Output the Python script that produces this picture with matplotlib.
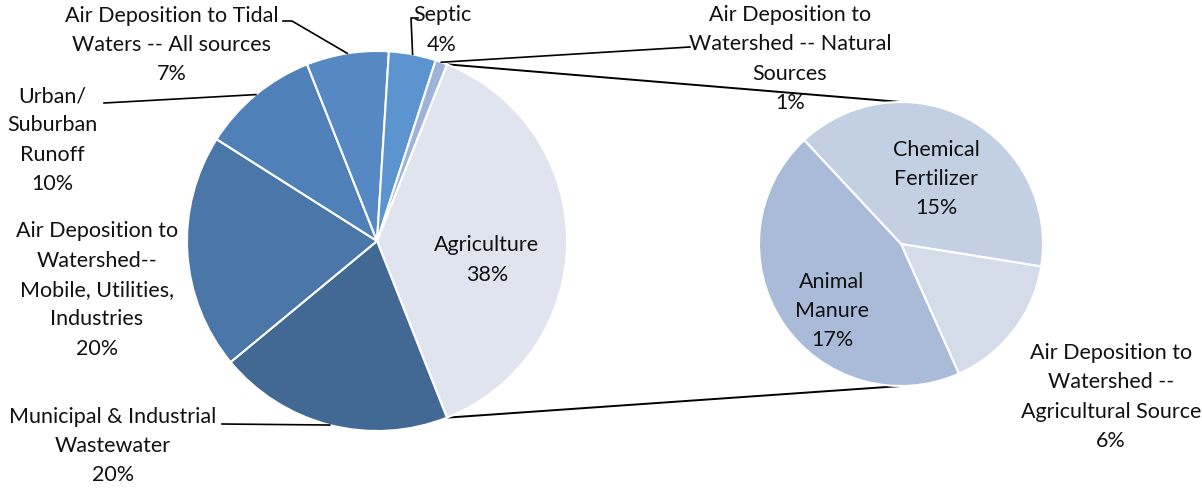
import numpy as np
import matplotlib.pyplot as plt

W, H = 1202, 488

# main pie
main_labels = ["Agriculture", "Municipal & Industrial\nWastewater",
               "Air Deposition to\nWatershed--\nMobile, Utilities,\nIndustries",
               "Urban/\nSuburban\nRunoff", "Air Deposition to Tidal\nWaters -- All sources",
               "Septic", "Air Deposition to\nWatershed -- Natural\nSources"]
main_values = [38, 20, 20, 10, 7, 4, 1]
main_colors = ["#dfe4ee", "#416994", "#4a76a8", "#4f80b8", "#5689c3", "#5c94d0", "#9db3d8"]

# breakdown of agriculture
sub_labels = ["Chemical\nFertilizer", "Air Deposition to\nWatershed --\nAgricultural Source",
              "Animal\nManure"]
sub_values = [15, 6, 17]
sub_colors = ["#c3d0e4", "#d4dbe9", "#aabbd9"]

plt.rcParams["font.family"] = ["Lato", "DejaVu Sans"]
fig = plt.figure(figsize=(W / 100, H / 100), dpi=100)
ax = fig.add_axes([0, 0, 1, 1])


def Y(y):
    return H - y


c1, r1 = (377, Y(241)), 190
c2, r2 = (901, Y(244)), 142

half = 360 * main_values[0] / sum(main_values) / 2
wedges1, _ = ax.pie(main_values, colors=main_colors, center=c1, radius=r1,
                    startangle=half, counterclock=False,
                    wedgeprops=dict(edgecolor="white", linewidth=1.5))
wedges2, _ = ax.pie(sub_values, colors=sub_colors, center=c2, radius=r2,
                    startangle=133, counterclock=False,
                    wedgeprops=dict(edgecolor="white", linewidth=1.5))
ax.set_xlim(0, W)
ax.set_ylim(0, H)
ax.set_aspect("auto")
ax.axis("off")


def edge_point(w, frac=0.5, r=None):
    ang = np.deg2rad(w.theta1 + (w.theta2 - w.theta1) * frac)
    rr = w.r if r is None else r
    return w.center[0] + rr * np.cos(ang), w.center[1] + rr * np.sin(ang)


# lines joining the agriculture slice to the second pie
a = wedges1[0]
for ang, yy in [(a.theta2, c2[1] + r2), (a.theta1, c2[1] - r2)]:
    x0 = c1[0] + r1 * np.cos(np.deg2rad(ang))
    y0 = c1[1] + r1 * np.sin(np.deg2rad(ang))
    ax.plot([x0, c2[0]], [y0, yy], color="black", lw=1.4, zorder=0)

fs = 15.5
tk = dict(ha="center", va="center", fontsize=fs, linespacing=1.58, color="#111111")


def label(i, text, x, y, lead=None):
    pct = f"{main_values[i]}%"
    ax.text(x, Y(y), f"{text}\n{pct}", **tk)
    if lead is not None:
        px, py = edge_point(wedges1[i])
        xs = [p[0] for p in lead] + [px]
        ys = [Y(p[1]) for p in lead] + [py]
        ax.plot(xs, ys, color="black", lw=1.2)


label(0, main_labels[0], 487, 260)
label(1, main_labels[1], 113, 446, lead=[(222, 424)])
label(2, main_labels[2], 97, 290)
label(3, main_labels[3], 52, 140, lead=[(104, 103)])
label(4, main_labels[4], 172, 45, lead=[(283, 21), (292, 21)])
label(5, main_labels[5], 442, 30, lead=[(418, 18), (411, 18)])
label(6, main_labels[6], 790, 59, lead=[(690, 47)])

sub_pos = [(936, 179), (1111, 397), (832, 311)]
for txt, v, (x, y) in zip(sub_labels, sub_values, sub_pos):
    ax.text(x, Y(y), f"{txt}\n{v}%", **tk)

fig.savefig("out.png", dpi=100)
